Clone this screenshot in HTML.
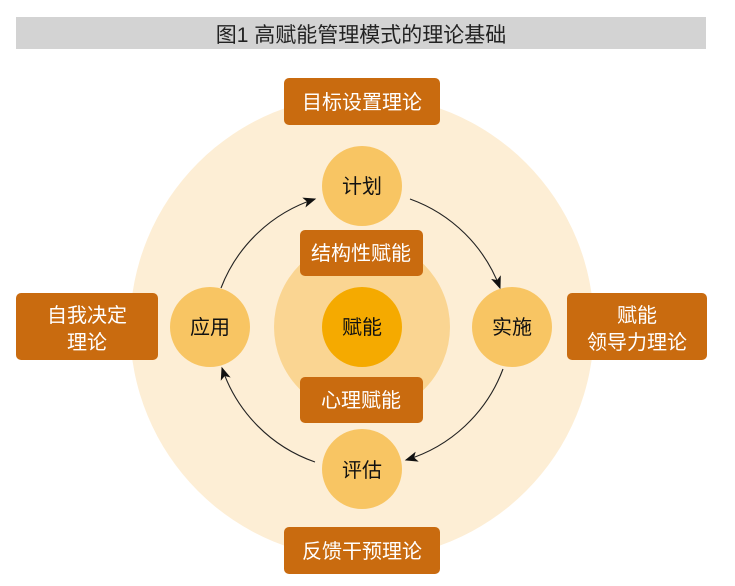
<!DOCTYPE html>
<html><head><meta charset="utf-8"><style>
body{margin:0;background:#fff;}
svg{display:block;font-family:"Liberation Sans","Noto Sans CJK SC",sans-serif;}
</style></head><body>
<svg width="735" height="586" viewBox="0 0 735 586" xmlns="http://www.w3.org/2000/svg">
<defs><marker id="a" viewBox="0 0 10 10" refX="9" refY="5" markerWidth="13" markerHeight="13" orient="auto" markerUnits="userSpaceOnUse"><path d="M0,1 L10,5 L0,9 L2.5,5 z" fill="#111"/></marker></defs>
<rect x="16" y="17" width="690" height="32" fill="#d3d3d3"/>
<text x="361" y="42" font-size="21" text-anchor="middle" fill="#222">图1  高赋能管理模式的理论基础</text>
<circle cx="362" cy="327" r="232" fill="#fdeed5"/>
<circle cx="362" cy="327" r="88" fill="#fad592"/>
<g fill="none" stroke="#222" stroke-width="1.1">
<path d="M221,288 A150,150 0 0 1 315,199" marker-end="url(#a)"/>
<path d="M410,199 A150,150 0 0 1 500,288" marker-end="url(#a)"/>
<path d="M503,369 A150,150 0 0 1 406,460" marker-end="url(#a)"/>
<path d="M315,462 A150,150 0 0 1 222,368" marker-end="url(#a)"/>
</g>
<g fill="#f8c563">
<circle cx="362" cy="186" r="40"/><circle cx="512" cy="327" r="40"/>
<circle cx="362" cy="469" r="40"/><circle cx="210" cy="327" r="40"/>
</g>
<circle cx="362" cy="327" r="40" fill="#f5aa00"/>
<g fill="#c96b0f">
<rect x="284" y="78" width="156" height="47" rx="5"/>
<rect x="300" y="230" width="123" height="46" rx="5"/>
<rect x="300" y="377" width="123" height="46" rx="5"/>
<rect x="16" y="293" width="142" height="67" rx="5"/>
<rect x="567" y="293" width="140" height="67" rx="5"/>
<rect x="284" y="527" width="156" height="47" rx="5"/>
</g>
<g font-size="20" text-anchor="middle" fill="#fff">
<text x="362" y="109">目标设置理论</text>
<text x="361" y="260">结构性赋能</text>
<text x="361" y="407">心理赋能</text>
<text x="87" y="322">自我决定</text><text x="87" y="349">理论</text>
<text x="637" y="322">赋能</text><text x="637" y="349">领导力理论</text>
<text x="362" y="558">反馈干预理论</text>
</g>
<g font-size="20" text-anchor="middle" fill="#111">
<text x="362" y="193">计划</text><text x="512" y="334">实施</text>
<text x="362" y="477">评估</text><text x="210" y="334">应用</text>
<text x="362" y="334">赋能</text>
</g>
</svg>
</body></html>
